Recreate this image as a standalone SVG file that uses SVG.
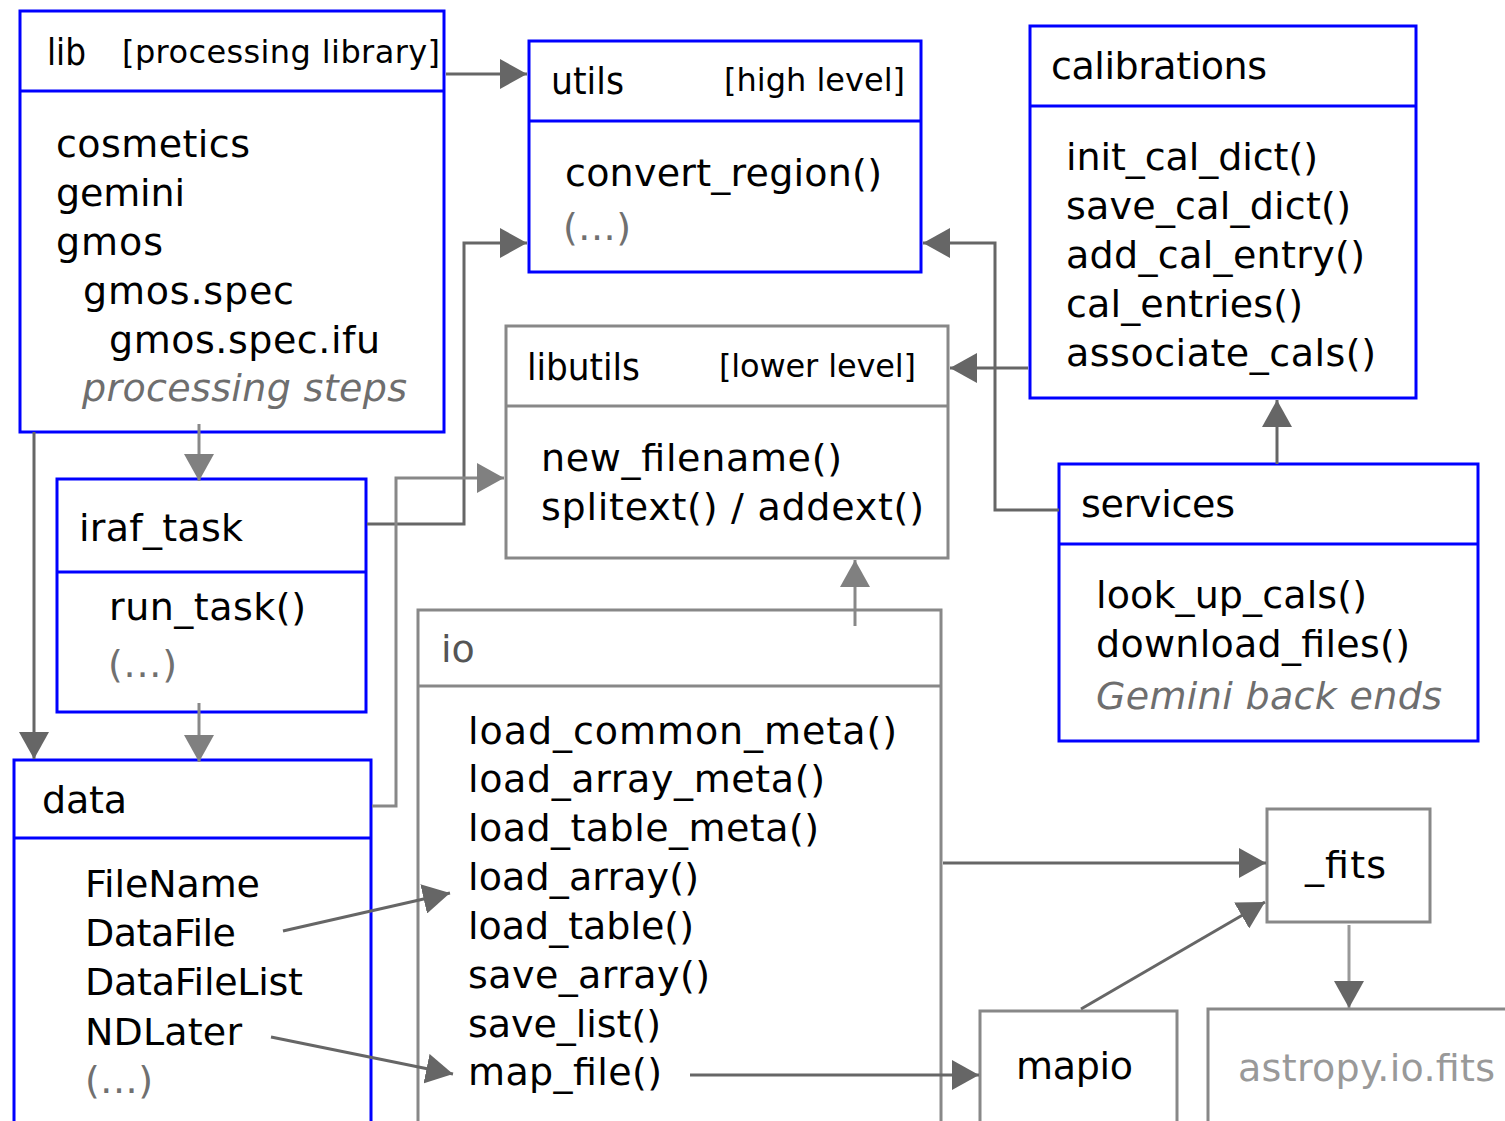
<svg xmlns="http://www.w3.org/2000/svg" width="1505" height="1121" viewBox="0 0 1505 1121">
<defs>
<style>
text{font-family:"DejaVu Sans","Liberation Sans",sans-serif;font-size:38px;fill:#000}
.tag{font-size:32px}
.grey{fill:#707070}
.it{font-style:italic;fill:#6e6e6e}
.io{fill:#555}
.ext{fill:#999}
.bx{fill:#fff;stroke:#0000ff;stroke-width:3}
.gb{fill:#fff;stroke:#888;stroke-width:3}
.sepb{stroke:#0000ff;stroke-width:3}
.sepg{stroke:#888;stroke-width:3}
.cd{fill:none;stroke:#666;stroke-width:3;marker-end:url(#ahd)}
.cl{fill:none;stroke:#888;stroke-width:3;marker-end:url(#ahl)}
.cx{fill:none;stroke:#999;stroke-width:3;marker-end:url(#ahd)}
</style>
<marker id="ahd" markerUnits="userSpaceOnUse" markerWidth="28" markerHeight="30" refX="27" refY="15" orient="auto"><path d="M0,0 L27,15 L0,30 z" fill="#666"/></marker>
<marker id="ahl" markerUnits="userSpaceOnUse" markerWidth="28" markerHeight="30" refX="27" refY="15" orient="auto"><path d="M0,0 L27,15 L0,30 z" fill="#808080"/></marker>
</defs>
<rect width="1505" height="1121" fill="#fff"/>

<g id="lib">
<rect class="bx" x="20" y="11" width="424" height="421"/>
<line class="sepb" x1="20" y1="91" x2="444" y2="91"/>
<text x="47" y="65" textLength="39" lengthAdjust="spacingAndGlyphs">lib</text>
<text class="tag" x="122" y="63" textLength="318" lengthAdjust="spacing">[processing library]</text>
<text x="56" y="157" textLength="194" lengthAdjust="spacing">cosmetics</text>
<text x="56" y="206" textLength="129" lengthAdjust="spacing">gemini</text>
<text x="56" y="255" textLength="107" lengthAdjust="spacing">gmos</text>
<text x="83" y="304" textLength="211" lengthAdjust="spacing">gmos.spec</text>
<text x="109" y="353" textLength="271" lengthAdjust="spacing">gmos.spec.ifu</text>
<text class="it" x="82" y="401" textLength="325" lengthAdjust="spacing">processing steps</text>
</g>

<g id="utils">
<rect class="bx" x="529" y="41" width="392" height="231"/>
<line class="sepb" x1="529" y1="121" x2="921" y2="121"/>
<text x="551" y="94" textLength="73" lengthAdjust="spacingAndGlyphs">utils</text>
<text class="tag" x="724" y="91" textLength="181" lengthAdjust="spacing">[high level]</text>
<text x="565" y="186" textLength="317" lengthAdjust="spacing">convert_region()</text>
<text class="grey" x="563" y="240" textLength="68" lengthAdjust="spacing">(...)</text>
</g>

<g id="calibrations">
<rect class="bx" x="1030" y="26" width="386" height="372"/>
<line class="sepb" x1="1030" y1="106" x2="1416" y2="106"/>
<text x="1051" y="79" textLength="216" lengthAdjust="spacing">calibrations</text>
<text x="1066" y="170" textLength="252" lengthAdjust="spacing">init_cal_dict()</text>
<text x="1066" y="219" textLength="285" lengthAdjust="spacing">save_cal_dict()</text>
<text x="1066" y="268" textLength="299" lengthAdjust="spacing">add_cal_entry()</text>
<text x="1066" y="317" textLength="237" lengthAdjust="spacing">cal_entries()</text>
<text x="1066" y="366" textLength="310" lengthAdjust="spacing">associate_cals()</text>
</g>

<g id="libutils">
<rect class="gb" x="506" y="326" width="442" height="232"/>
<line class="sepg" x1="506" y1="406" x2="948" y2="406"/>
<text x="527" y="380" textLength="113" lengthAdjust="spacingAndGlyphs">libutils</text>
<text class="tag" x="719" y="377" textLength="197" lengthAdjust="spacing">[lower level]</text>
<text x="541" y="471" textLength="301" lengthAdjust="spacing">new_filename()</text>
<text x="541" y="520" textLength="383" lengthAdjust="spacing">splitext() / addext()</text>
</g>

<g id="iraf_task">
<rect class="bx" x="57" y="479" width="309" height="233"/>
<line class="sepb" x1="57" y1="572" x2="366" y2="572"/>
<text x="79" y="541" textLength="164" lengthAdjust="spacing">iraf_task</text>
<text x="109" y="620" textLength="197" lengthAdjust="spacing">run_task()</text>
<text class="grey" x="108" y="677" textLength="69" lengthAdjust="spacing">(...)</text>
</g>

<g id="services">
<rect class="bx" x="1059" y="464" width="419" height="277"/>
<line class="sepb" x1="1059" y1="544" x2="1478" y2="544"/>
<text x="1081" y="517" textLength="154" lengthAdjust="spacing">services</text>
<text x="1096" y="608" textLength="271" lengthAdjust="spacing">look_up_cals()</text>
<text x="1096" y="657" textLength="314" lengthAdjust="spacing">download_files()</text>
<text class="it" x="1096" y="709" textLength="346" lengthAdjust="spacing">Gemini back ends</text>
</g>

<g id="data">
<rect class="bx" x="14" y="760" width="357" height="380"/>
<line class="sepb" x1="14" y1="838" x2="371" y2="838"/>
<text x="42" y="813" textLength="85" lengthAdjust="spacing">data</text>
<text x="85" y="897" textLength="175" lengthAdjust="spacing">FileName</text>
<text x="85" y="946" textLength="151" lengthAdjust="spacing">DataFile</text>
<text x="85" y="995" textLength="218" lengthAdjust="spacing">DataFileList</text>
<text x="85" y="1045" textLength="157" lengthAdjust="spacing">NDLater</text>
<text class="grey" x="85" y="1093" textLength="68" lengthAdjust="spacing">(...)</text>
</g>

<g id="io">
<rect class="gb" x="418" y="610" width="523" height="530"/>
<line class="sepg" x1="418" y1="686" x2="941" y2="686"/>
<text class="io" x="441" y="662">io</text>
<text x="468" y="744" textLength="429" lengthAdjust="spacing">load_common_meta()</text>
<text x="468" y="792" textLength="357" lengthAdjust="spacing">load_array_meta()</text>
<text x="468" y="841" textLength="351" lengthAdjust="spacing">load_table_meta()</text>
<text x="468" y="890" textLength="231" lengthAdjust="spacing">load_array()</text>
<text x="468" y="939" textLength="226" lengthAdjust="spacing">load_table()</text>
<text x="468" y="988" textLength="242" lengthAdjust="spacing">save_array()</text>
<text x="468" y="1037" textLength="193" lengthAdjust="spacing">save_list()</text>
<text x="468" y="1085" textLength="194" lengthAdjust="spacing">map_file()</text>
</g>

<g id="fits">
<rect class="gb" x="1267" y="809" width="163" height="113"/>
<text x="1305" y="878" textLength="81" lengthAdjust="spacing">_fits</text>
</g>

<g id="mapio">
<rect class="gb" x="980" y="1011" width="197" height="130"/>
<text x="1016" y="1079" textLength="117" lengthAdjust="spacing">mapio</text>
</g>

<g id="astropy">
<rect class="gb" x="1208" y="1009" width="320" height="130"/>
<text class="ext" x="1238" y="1081" textLength="257" lengthAdjust="spacing">astropy.io.fits</text>
</g>

<g id="connectors">
<path class="cd" d="M446,74 H527"/>
<path class="cd" d="M367,524 H464 V243 H527"/>
<path class="cd" d="M1059,510 H995 V243 H923"/>
<path class="cd" d="M1028,368 H950"/>
<path class="cl" d="M372,806 H396 V478 H504"/>
<path class="cl" d="M855,626 V560"/>
<path class="cl" d="M199,424 V481"/>
<path class="cl" d="M199,703 V762"/>
<path class="cd" d="M34,432 V759"/>
<path class="cd" d="M283,931 L450,893"/>
<path class="cd" d="M271,1037 L453,1074"/>
<path class="cd" d="M943,863 H1266"/>
<path class="cd" d="M1081,1009 L1265,902"/>
<path class="cx" d="M1349,925 V1008"/>
<path class="cd" d="M690,1075 H979"/>
<path class="cd" d="M1277,464 V400"/>
</g>
</svg>
